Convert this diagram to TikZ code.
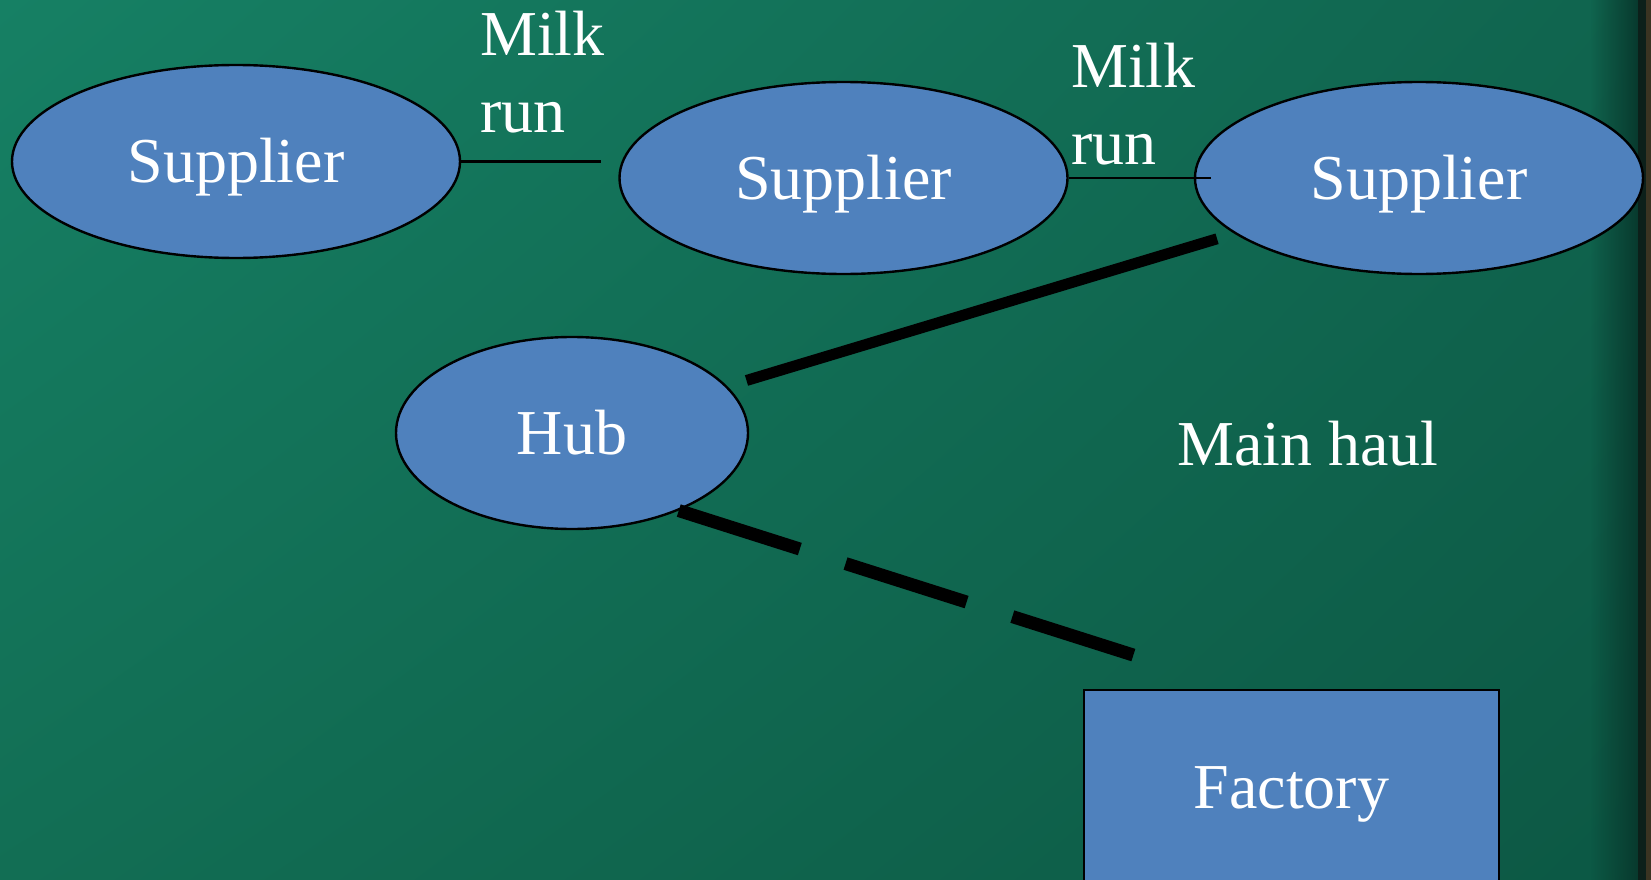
\documentclass[tikz,border=0pt]{standalone}
\usepackage{fontspec}
\setmainfont{Liberation Serif}
\usepackage{tikz}
\usetikzlibrary{shapes.geometric,fadings,shadings}
\definecolor{boxblue}{RGB}{79,129,189}
\definecolor{bgul}{RGB}{22,128,100}
\definecolor{bgur}{RGB}{16,100,78}
\definecolor{bgll}{RGB}{18,110,84}
\definecolor{bglr}{RGB}{12,88,68}
\definecolor{edgeteal}{RGB}{8,58,46}
\definecolor{edgedark}{RGB}{12,32,26}
\definecolor{edgebrown}{RGB}{58,52,34}
\tikzfading[name=fadeedge, left color=transparent!100, right color=transparent!0]

\begin{document}
\begin{tikzpicture}[x=1pt,y=-1pt,
        site/.style={ellipse,draw=black,line width=2.4pt,fill=boxblue,text=white,
            inner sep=0pt,text height=42pt,text depth=0pt,font=\fontsize{64}{77}\selectfont},
        lbl/.style={text=white,inner sep=0pt,font=\fontsize{64}{77}\selectfont},
        milkrun/.style={line width=2.6pt},
        haul/.style={line width=11pt}]
        \useasboundingbox (0,0) rectangle (1651,880);
        \clip (0,0) rectangle (1651,880);

        % background
        \shade[upper left=bgul,upper right=bgur,lower left=bgll,lower right=bglr] (0,0) rectangle (1651,880);
        \fill[edgeteal,path fading=fadeedge] (1590,0) rectangle (1638,880);
        \fill[edgedark] (1638,0) rectangle (1646,880);
        \fill[edgebrown] (1646,0) rectangle (1651,880);

        % suppliers
        \node[site,minimum width=448pt,minimum height=193pt] (supA) at (236,161.5) {Supplier};
        \node[site,minimum width=448pt,minimum height=192pt] (supB) at (843.5,178) {Supplier};
        \node[site,minimum width=448pt,minimum height=192pt] (supC) at (1419,178) {Supplier};

        % hub and factory
        \node[site,minimum width=352pt,minimum height=192pt] (hub) at (572,433) {Hub};
        \node[site,rectangle,minimum width=415pt,minimum height=194pt] (factory) at (1291.5,787) {Factory};

        % labels
        \node[lbl,align=left,anchor=north west] (milkA) at (480,11) {Milk\\run};
        \node[lbl,align=left,anchor=north west] (milkB) at (1071,43) {Milk\\run};
        \node[lbl,anchor=base] (mainhaul) at (1308,465) {Main haul};

        % milk runs
        \draw[milkrun,shorten >=17pt] (supA.east) -- (supA.east -| supB.west);
        \draw[milkrun,shorten >=-17pt] (supB.east) -- (supC.west);

        % main haul
        \draw[haul,shorten <=20pt,shorten >=18pt] (hub) -- (supC);
        \draw[haul,line width=13pt,dash pattern=on 127pt off 48pt] (hub.-36) -- ([shift={(56,-32)}]factory.north west);
    \end{tikzpicture}
\end{document}
